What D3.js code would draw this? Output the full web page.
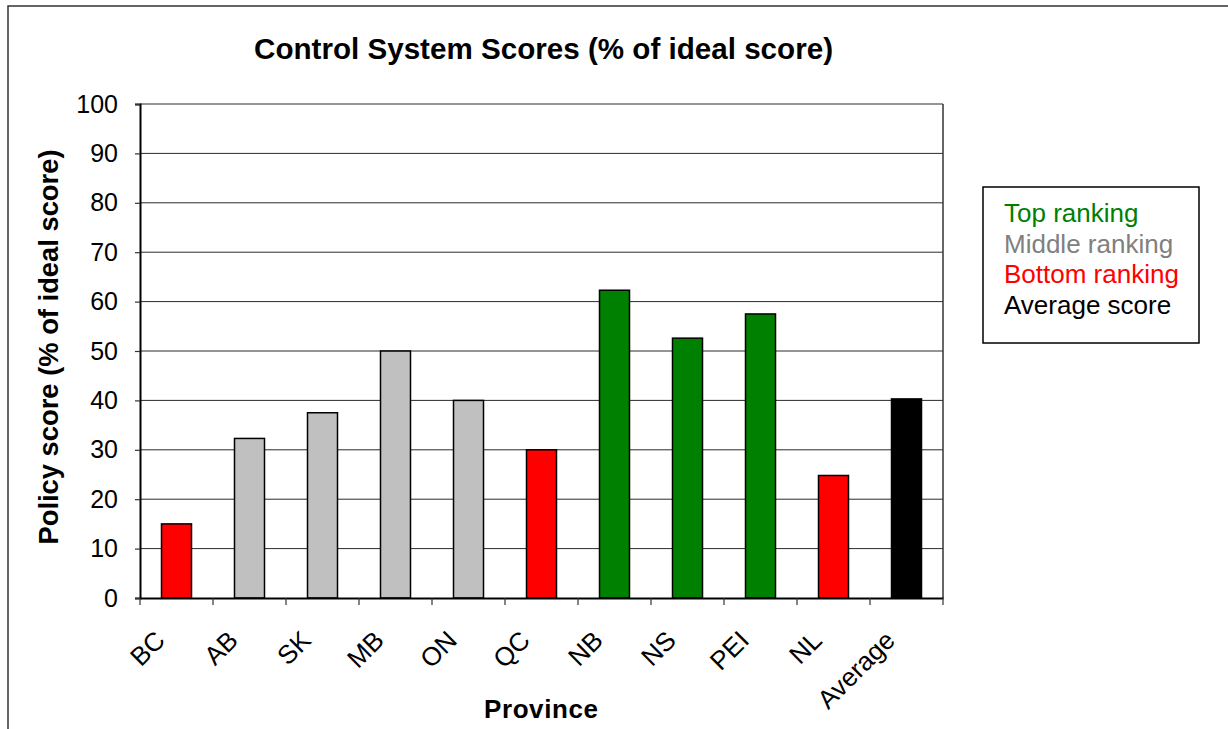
<!DOCTYPE html>
<html>
<head>
<meta charset="utf-8">
<script src="https://cdn.jsdelivr.net/npm/d3@7"></script>
<style>
  html, body { margin: 0; padding: 0; background: #fff; }
  svg { display: block; font-family: "Liberation Sans", Arial, sans-serif; }
</style>
</head>
<body>
<svg id="chart" width="1228" height="729"></svg>
<script>
const categories = ["BC", "AB", "SK", "MB", "ON", "QC", "NB", "NS", "PEI", "NL", "Average"];
const scores = [15.0, 32.3, 37.5, 50.0, 40.0, 30.0, 62.3, 52.6, 57.5, 24.8, 40.3];
const ranks = ["bottom", "middle", "middle", "middle", "middle", "bottom", "top", "top", "top", "bottom", "average"];
const yTicks = [0, 10, 20, 30, 40, 50, 60, 70, 80, 90, 100];
const legendLabels = ["Top ranking", "Middle ranking", "Bottom ranking", "Average score"];
const legendKeys = ["top", "middle", "bottom", "average"];

const barFill = d3.scaleOrdinal().domain(["top", "middle", "bottom", "average"])
  .range(["#008000", "#C0C0C0", "#FF0000", "#000000"]);
const textFill = d3.scaleOrdinal().domain(["top", "middle", "bottom", "average"])
  .range(["#008000", "#808080", "#FF0000", "#000000"]);

const svg = d3.select("#chart");
const plot = { left: 140, right: 943, top: 104, bottom: 598 };

// outer chart border
svg.append("rect").attr("x", 8).attr("y", 6).attr("width", 1240).attr("height", 760)
  .attr("fill", "none").attr("stroke", "#333").attr("stroke-width", 1.5);

const xb = d3.scaleBand().domain(categories).range([plot.left, plot.right]);
const y = d3.scaleLinear().domain([0, 100]).range([plot.bottom, plot.top]);

// gridlines
svg.append("g").selectAll("line").data(yTicks.filter(t => t > 0)).join("line")
  .attr("x1", plot.left).attr("x2", plot.right)
  .attr("y1", d => y(d)).attr("y2", d => y(d))
  .attr("stroke", "#2a2a2a").attr("stroke-width", 1);

// right plot border
svg.append("line").attr("x1", plot.right).attr("x2", plot.right)
  .attr("y1", plot.top).attr("y2", plot.bottom).attr("stroke", "#333").attr("stroke-width", 1.5);

// bars
svg.append("g").selectAll("rect").data(categories).join("rect")
  .attr("x", d => xb(d) + (xb.bandwidth() - 30) / 2)
  .attr("width", 30)
  .attr("y", (d, i) => y(scores[i]))
  .attr("height", (d, i) => y(0) - y(scores[i]))
  .attr("fill", (d, i) => barFill(ranks[i]))
  .attr("stroke", "#000").attr("stroke-width", 1.5);

// y axis
const yAxis = d3.axisLeft(y).tickValues(yTicks).tickSize(5).tickPadding(17).tickFormat(d3.format("d"));
const gy = svg.append("g").attr("transform", `translate(${plot.left},0)`).call(yAxis);
gy.select(".domain").attr("stroke", "#000").attr("stroke-width", 2);
gy.selectAll(".tick line").attr("stroke", "#333").attr("stroke-width", 1.2);
gy.selectAll(".tick text").attr("font-size", 25).attr("fill", "#000")
  .attr("font-family", "'Liberation Sans', Arial, sans-serif");

// x axis (ticks between categories)
const xAxis = d3.axisBottom(xb).tickSize(0).tickFormat("");
const gx = svg.append("g").attr("transform", `translate(0,${plot.bottom})`).call(xAxis);
gx.select(".domain").attr("stroke", "#000").attr("stroke-width", 2);
const boundaries = categories.map(c => xb(c)).concat([plot.right]);
gx.append("g").selectAll("line").data(boundaries).join("line")
  .attr("x1", d => d).attr("x2", d => d).attr("y1", 0).attr("y2", 7)
  .attr("stroke", "#333").attr("stroke-width", 1.2);

// category labels rotated
svg.append("g").selectAll("text").data(categories).join("text")
  .attr("transform", d => `translate(${xb(d) + xb.bandwidth() / 2 - 10},642) rotate(-45)`)
  .attr("text-anchor", "end")
  .attr("font-size", 26)
  .attr("fill", "#000")
  .text(d => d);

// title
svg.append("text").attr("x", 543.5).attr("y", 59).attr("text-anchor", "middle")
  .attr("font-size", 29).attr("font-weight", "bold")
  .attr("textLength", 579).attr("lengthAdjust", "spacingAndGlyphs")
  .text("Control System Scores (% of ideal score)");

// y axis title
svg.append("text").attr("transform", "translate(58,347) rotate(-90)")
  .attr("text-anchor", "middle").attr("font-size", 27).attr("font-weight", "bold")
  .attr("textLength", 395).attr("lengthAdjust", "spacingAndGlyphs")
  .text("Policy score (% of ideal score)");

// x axis title
svg.append("text").attr("x", 541).attr("y", 718).attr("text-anchor", "middle")
  .attr("font-size", 26).attr("font-weight", "bold")
  .attr("textLength", 114).attr("lengthAdjust", "spacing")
  .text("Province");

// legend
svg.append("rect").attr("x", 983).attr("y", 187).attr("width", 216).attr("height", 156)
  .attr("fill", "#fff").attr("stroke", "#000").attr("stroke-width", 1.5);
const ly = d3.scalePoint().domain(legendKeys).range([222, 314]);
svg.append("g").selectAll("text").data(legendKeys).join("text")
  .attr("x", 1004).attr("y", d => ly(d))
  .attr("font-size", 26)
  .attr("fill", d => textFill(d))
  .text((d, i) => legendLabels[i]);
</script>
</body>
</html>
